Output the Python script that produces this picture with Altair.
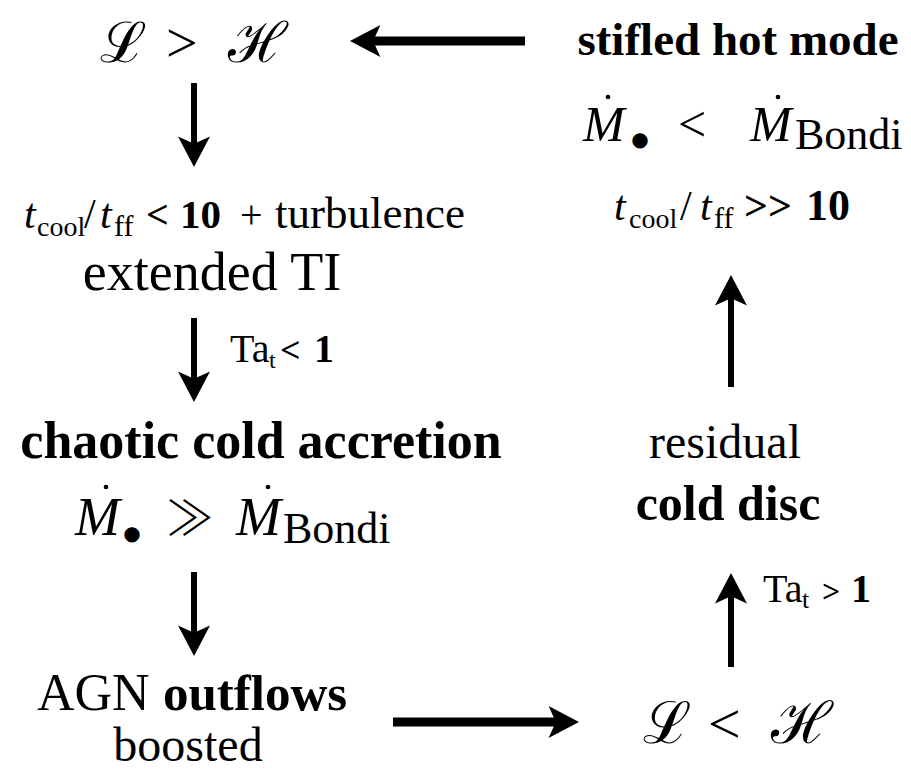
import math
import altair as alt
import pandas as pd

# ---------------- content: text pieces of the flow diagram ----------------
seg_text = [
    "ℒ", ">", "ℋ",
    "stifled hot mode",
    "M", "●", "<", "M", "Bondi",
    "t", "cool", "/", "t", "ff", ">>", "10",
    "t", "cool", "/", "t", "ff", "<", "10", "+", "turbulence",
    "extended TI",
    "Ta", "t", "<", "1",
    "chaotic cold accretion",
    "M", "●", "≫", "M", "Bondi",
    "residual",
    "cold disc",
    "Ta", "t", ">", "1",
    "AGN", "outflows",
    "boosted",
    "ℒ", "<", "ℋ",
]
seg_font = [
    "math", "reg", "math",
    "bold",
    "ital", "dot", "reg", "ital", "reg",
    "ital", "reg", "reg", "ital", "reg", "bold", "bold",
    "ital", "reg", "reg", "ital", "reg", "bold", "bold", "reg", "reg",
    "reg",
    "reg", "reg", "bold", "bold",
    "bold",
    "ital", "dot", "rel", "ital", "reg",
    "reg",
    "bold",
    "reg", "reg", "bold", "bold",
    "reg", "bold",
    "reg",
    "math", "reg", "math",
]

# ---------------- layout (diagram positions, pixels of the figure) ----------------
seg_align = [
    "left", "left", "left",
    "center",
    "left", "center", "left", "left", "left",
    "left", "left", "left", "left", "left", "left", "left",
    "left", "left", "left", "left", "left", "left", "left", "left", "left",
    "center",
    "left", "left", "left", "left",
    "center",
    "left", "center", "left", "left", "left",
    "center",
    "center",
    "left", "left", "left", "left",
    "left", "left",
    "center",
    "left", "left", "left",
]
seg_x = [
    100, 166, 228,
    738,
    583, 640, 678, 750, 795,
    614, 629, 680, 700, 714, 744, 806,
    24, 37, 84, 100, 114, 146, 180, 240, 275,
    212,
    230, 269, 280, 314,
    261,
    75, 132, 166, 236, 283,
    725,
    728,
    763, 802, 822, 851,
    37, 163,
    188,
    643, 708, 771,
]
seg_y = [
    62, 62, 62,
    55,
    141, 146, 141, 141, 149,
    220, 228, 220, 220, 228, 220, 220,
    228, 236, 228, 228, 236, 228, 228, 228, 228,
    290,
    362, 368, 362, 362,
    458,
    535, 540, 535, 535, 543,
    458,
    520,
    602, 608, 602, 602,
    710, 710,
    761,
    743, 743, 743,
]
seg_size = [
    56, 56, 56,
    47,
    50, 20, 50, 50, 44,
    42, 28, 42, 42, 30, 42, 44,
    42, 28, 42, 42, 30, 40, 41, 40, 45,
    54,
    40, 24, 36, 40,
    52,
    54, 20, 48, 54, 44,
    48,
    50,
    40, 26, 32, 40,
    52, 51,
    48,
    58, 58, 58,
]

# dots above the accretion-rate symbols
dot_x = [106, 268, 608, 778]
dot_y = [487, 487, 97, 97]

# arrows: tail -> tip
arrow_x1 = [525, 194, 194, 194, 393, 731, 731]
arrow_y1 = [41, 83, 318, 572, 722, 667, 387]
arrow_x2 = [350, 194, 194, 194, 579, 731, 731]
arrow_y2 = [41, 167, 402, 656, 722, 573, 275]
arrow_w = [9, 6, 6, 6, 9, 6, 6]

FONTS = {
    "reg": ("Liberation Serif", 400, "normal"),
    "bold": ("Liberation Serif", "bold", "normal"),
    "ital": ("Liberation Serif", 400, "italic"),
    "rel": ("Noto Sans CJK JP", 300, "normal"),
    "dot": ("DejaVu Sans", 400, "normal"),
    "math": ("DejaVu Serif", 400, "normal"),
}

segs = pd.DataFrame({
    "text": seg_text, "font": seg_font, "align": seg_align,
    "x": seg_x, "y": seg_y, "size": seg_size,
})

xs = alt.Scale(domain=[8, 903], nice=False, zero=False)
ys = alt.Scale(domain=[8, 771], nice=False, zero=False, reverse=True)

layers = []
for (f, a), sub in segs.groupby(["font", "align"]):
    fam, wt, st = FONTS[f]
    layers.append(
        alt.Chart(sub).mark_text(
            font=fam, fontWeight=wt, fontStyle=st, align=a,
            baseline="alphabetic", color="black",
        ).encode(
            x=alt.X("x:Q", scale=xs, axis=None),
            y=alt.Y("y:Q", scale=ys, axis=None),
            text="text:N",
            size=alt.Size("size:Q", scale=None),
        )
    )

dots = pd.DataFrame({"x": dot_x, "y": dot_y})
layers.append(
    alt.Chart(dots).mark_circle(color="black", opacity=1, size=22).encode(
        x=alt.X("x:Q", scale=xs, axis=None),
        y=alt.Y("y:Q", scale=ys, axis=None),
    )
)

arrows = pd.DataFrame({
    "x1": arrow_x1, "y1": arrow_y1, "x2": arrow_x2, "y2": arrow_y2, "w": arrow_w,
})
dx = arrows.x2 - arrows.x1
dy = arrows.y2 - arrows.y1
ln = (dx ** 2 + dy ** 2) ** 0.5
arrows["sx2"] = arrows.x2 - dx / ln * 18
arrows["sy2"] = arrows.y2 - dy / ln * 18
arrows["ang"] = [(math.degrees(math.atan2(a, -b)) + 360) % 360 for a, b in zip(dx, dy)]

layers.append(
    alt.Chart(arrows).mark_rule(color="black", strokeCap="butt").encode(
        x=alt.X("x1:Q", scale=xs, axis=None),
        y=alt.Y("y1:Q", scale=ys, axis=None),
        x2="sx2:Q",
        y2="sy2:Q",
        size=alt.Size("w:Q", scale=None),
    )
)

HEAD = "M0,0 L1,1.9 L0,1.45 L-1,1.9 Z"
layers.append(
    alt.Chart(arrows).mark_point(
        shape=HEAD, filled=True, color="black", opacity=1, strokeWidth=0, size=1024,
    ).encode(
        x=alt.X("x2:Q", scale=xs, axis=None),
        y=alt.Y("y2:Q", scale=ys, axis=None),
        angle=alt.Angle("ang:Q", scale=None),
    )
)

chart = alt.layer(*layers).properties(
    width=895, height=763, padding=0, background="white"
).configure_view(stroke=None)

chart.save("out.html", embed_options={"renderer": "svg", "actions": False})
